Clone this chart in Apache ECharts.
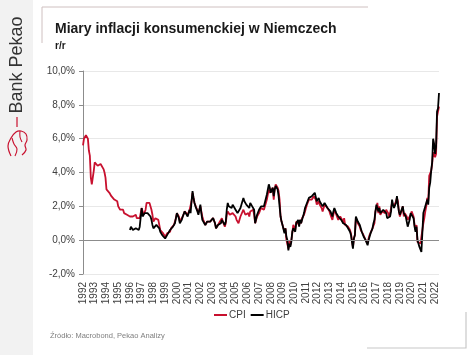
<!DOCTYPE html>
<html>
<head>
<meta charset="utf-8">
<script src="https://cdn.jsdelivr.net/npm/echarts@6/dist/echarts.min.js"></script>
<style>
html,body{margin:0;padding:0;background:#fff;}
#c{width:474px;height:355px;}
</style>
</head>
<body>
<div id="c"></div>
<script>
// ---- data (monthly y/y, %) ----
const startYear = 1992;
const endYear = 2022;
const endMonth = 5;

const cpi = [
  5.6, 6.0, 6.1, 6.2, 6.2, 6.0, 5.3, 5.0, 3.7, 3.3, 3.4, 4.1, // 1992
  4.6, 4.7, 4.5, 4.4, 4.3, 4.4, 4.5, 4.5, 4.4, 4.2, 4.0, 3.7, // 1993
  3.0, 2.9, 2.9, 2.8, 2.7, 2.6, 2.5, 2.5, 2.4, 2.4, 2.3, 2.3, // 1994
  2.0, 1.9, 1.8, 1.8, 1.7, 1.8, 1.6, 1.7, 1.5, 1.5, 1.6, 1.5, // 1995
  1.4, 1.5, 1.4, 1.4, 1.3, 1.4, 1.5, 1.3, 1.3, 1.4, 1.3, 1.4, // 1996
  1.9, 1.7, 1.5, 1.6, 1.8, 2.2, 2.3, 2.3, 2.2, 2.2, 1.8, 1.5, // 1997
  1.1, 1.2, 1.3, 1.4, 1.3, 1.2, 0.9, 0.6, 0.6, 0.5, 0.4, 0.3, // 1998
  0.2, 0.2, 0.4, 0.5, 0.5, 0.5, 0.7, 0.8, 0.8, 0.9, 1.1, 1.3, // 1999
  1.6, 1.5, 1.4, 1.1, 1.0, 1.2, 1.4, 1.3, 1.7, 1.6, 1.6, 1.5, // 2000
  1.5, 1.8, 1.7, 2.3, 2.8, 2.5, 2.2, 2.1, 1.9, 1.8, 1.6, 1.7, // 2001
  2.0, 1.7, 1.4, 1.2, 1.1, 0.9, 1.0, 1.1, 1.1, 1.2, 1.1, 1.1, // 2002
  1.1, 1.3, 1.2, 1.0, 0.7, 0.8, 0.9, 1.0, 1.1, 1.1, 1.3, 1.1, // 2003
  1.1, 0.8, 1.0, 1.5, 1.7, 1.6, 1.5, 1.6, 1.4, 1.6, 1.5, 1.7, // 2004
  1.4, 1.2, 1.1, 1.0, 1.2, 1.4, 1.5, 1.4, 1.8, 1.7, 1.5, 1.5, // 2005
  1.4, 1.6, 1.4, 1.7, 1.8, 1.7, 1.8, 1.5, 1.0, 1.1, 1.4, 1.3, // 2006
  1.6, 1.6, 1.9, 1.9, 1.9, 1.8, 1.9, 1.9, 2.4, 2.4, 3.0, 2.8, // 2007
  2.8, 2.8, 3.1, 2.4, 3.0, 3.3, 3.3, 3.1, 2.9, 2.4, 1.4, 1.1, // 2008
  0.9, 1.0, 0.5, 0.7, 0.0, 0.1, -0.5, 0.0, -0.3, 0.0, 0.4, 0.9, // 2009
  0.8, 0.6, 1.1, 1.0, 1.2, 0.9, 1.2, 1.0, 1.3, 1.3, 1.5, 1.7, // 2010
  1.9, 2.1, 2.1, 2.4, 2.3, 2.3, 2.4, 2.4, 2.6, 2.5, 2.4, 2.1, // 2011
  2.1, 2.3, 2.1, 2.0, 1.9, 1.7, 1.7, 2.1, 2.0, 2.0, 1.9, 2.0, // 2012
  1.7, 1.5, 1.4, 1.2, 1.5, 1.8, 1.9, 1.5, 1.4, 1.2, 1.3, 1.4, // 2013
  1.3, 1.2, 1.0, 1.3, 0.9, 1.0, 0.8, 0.8, 0.8, 0.6, 0.4, 0.0, // 2014
  -0.4, 0.1, 0.3, 1.3, 1.2, 1.0, 0.9, 0.8, 0.6, 0.5, 0.4, 0.3, // 2015
  0.3, 0.0, 0.0, -0.2, 0.1, 0.3, 0.4, 0.4, 0.7, 0.8, 1.0, 1.7, // 2016
  1.9, 2.2, 1.6, 2.0, 1.5, 1.6, 1.7, 1.8, 1.8, 1.6, 1.8, 1.7, // 2017
  1.6, 1.4, 1.6, 1.6, 2.2, 2.1, 2.0, 2.0, 2.3, 2.5, 2.3, 1.7, // 2018
  1.4, 1.5, 1.3, 2.0, 1.4, 1.6, 1.7, 1.4, 1.2, 1.1, 1.1, 1.5, // 2019
  1.7, 1.7, 1.4, 0.9, 0.6, 0.9, -0.1, 0.0, -0.2, -0.2, -0.3, -0.3, // 2020
  1.0, 1.3, 1.7, 2.0, 2.5, 2.3, 3.8, 3.9, 4.1, 4.5, 5.2, 5.3, // 2021
  4.9, 5.1, 7.3, 7.4, 7.9 // 2022
];

const hicpStartYear = 1996;
const hicp = [
  0.6, 0.8, 0.7, 0.6, 0.6, 0.7, 0.7, 0.6, 0.6, 0.6, 0.8, 0.9, // 1996
  1.9, 1.4, 1.5, 1.6, 1.7, 1.5, 1.6, 1.7, 1.6, 1.4, 1.2, 0.9, // 1997
  0.7, 0.6, 0.7, 0.9, 0.8, 0.8, 0.7, 0.5, 0.4, 0.3, 0.2, 0.2, // 1998
  0.1, 0.1, 0.2, 0.4, 0.4, 0.6, 0.7, 0.7, 0.8, 0.9, 1.0, 1.3, // 1999
  1.6, 1.5, 1.3, 1.0, 0.9, 1.2, 1.4, 1.3, 1.7, 1.6, 1.6, 1.4, // 2000
  1.5, 1.8, 1.6, 2.3, 2.9, 2.5, 2.2, 2.0, 1.9, 1.7, 1.5, 1.6, // 2001
  2.1, 1.6, 1.2, 1.2, 1.1, 0.9, 1.0, 1.1, 1.1, 1.2, 1.1, 1.2, // 2002
  1.1, 1.3, 1.2, 1.0, 0.7, 0.8, 0.9, 1.0, 1.0, 1.0, 1.2, 1.1, // 2003
  1.2, 0.9, 1.1, 1.8, 2.2, 2.0, 2.0, 2.1, 1.9, 2.1, 2.0, 2.2, // 2004
  1.8, 1.9, 1.6, 1.5, 1.7, 1.9, 1.9, 1.9, 2.5, 2.3, 2.2, 2.1, // 2005
  2.1, 2.1, 1.9, 2.2, 2.1, 2.0, 2.1, 1.8, 1.0, 1.1, 1.5, 1.4, // 2006
  1.8, 1.9, 2.0, 2.0, 2.0, 2.0, 2.0, 2.0, 2.7, 2.7, 3.3, 3.1, // 2007
  2.8, 2.9, 3.1, 2.6, 3.0, 3.2, 3.1, 3.0, 2.6, 2.0, 1.4, 1.1, // 2008
  0.9, 1.0, 0.4, 0.7, 0.2, 0.0, -0.6, -0.2, -0.4, -0.1, 0.5, 0.7, // 2009
  0.7, 0.5, 1.0, 1.0, 1.2, 0.8, 1.2, 1.0, 1.2, 1.3, 1.6, 1.9, // 2010
  2.0, 2.2, 2.3, 2.5, 2.4, 2.4, 2.6, 2.5, 2.7, 2.8, 2.7, 2.3, // 2011
  2.3, 2.5, 2.3, 2.2, 2.2, 2.0, 2.1, 2.2, 2.1, 2.1, 1.9, 2.0, // 2012
  1.9, 1.7, 1.8, 1.4, 1.7, 1.9, 1.8, 1.6, 1.5, 1.4, 1.4, 1.3, // 2013
  1.2, 1.1, 1.0, 1.0, 0.9, 0.9, 0.8, 0.7, 0.7, 0.5, 0.3, -0.1, // 2014
  -0.5, 0.1, 0.3, 1.4, 1.3, 1.1, 1.0, 0.9, 0.7, 0.5, 0.4, 0.2, // 2015
  0.2, 0.0, -0.1, -0.3, 0.0, 0.2, 0.4, 0.5, 0.7, 1.0, 1.2, 1.7, // 2016
  2.1, 2.0, 1.7, 1.9, 1.6, 1.5, 1.5, 1.8, 1.8, 1.7, 1.6, 1.3, // 2017
  1.3, 1.4, 1.4, 1.7, 2.4, 2.1, 1.9, 2.0, 2.2, 2.6, 2.1, 1.7, // 2018
  1.5, 1.6, 1.4, 2.0, 1.6, 1.5, 1.4, 1.4, 0.8, 0.9, 1.2, 1.6, // 2019
  1.6, 1.7, 1.3, 0.8, 0.5, 0.8, 0.0, -0.1, -0.4, -0.5, -0.7, -0.7, // 2020
  1.6, 1.6, 2.0, 2.1, 2.4, 2.1, 3.1, 3.4, 4.1, 4.6, 6.0, 5.7, // 2021
  5.1, 5.5, 7.6, 7.8, 8.7 // 2022
];

const yTicks = { min: -2, max: 10, interval: 2 };
const seriesNames = ['CPI', 'HICP'];

// ---- build categories ----
const months = [];
for (let y = startYear; y <= endYear; y++) {
  for (let m = 1; m <= 12; m++) {
    if (y === endYear && m > endMonth) break;
    months.push(y + '-' + (m < 10 ? '0' + m : m));
  }
}
const hicpOffset = (hicpStartYear - startYear) * 12;
const hicpFull = months.map((_, i) => i < hicpOffset ? null : hicp[i - hicpOffset]);

const FONT = "'Liberation Sans', sans-serif";

const chart = echarts.init(document.getElementById('c'), null, { renderer: 'canvas' });
chart.setOption({
  animation: false,
  backgroundColor: '#ffffff',
  grid: { left: 83, right: 35, top: 71, bottom: 81 },
  legend: {
    data: seriesNames,
    left: 209, top: 305,
    itemWidth: 13, itemHeight: 2, itemGap: 5,
    icon: 'rect',
    textStyle: { fontFamily: FONT, fontSize: 10, color: '#404040', padding: [0, 0, 0, -3] }
  },
  xAxis: {
    type: 'category',
    data: months,
    boundaryGap: false,
    axisLine: { show: false },
    axisTick: { show: false },
    splitLine: { show: false },
    axisLabel: {
      interval: (i) => i % 12 === 0,
      formatter: (v) => v.slice(0, 4),
      rotate: 90,
      margin: 8,
      fontFamily: FONT, fontSize: 10, color: '#404040'
    }
  },
  yAxis: {
    type: 'value',
    min: yTicks.min, max: yTicks.max, interval: yTicks.interval,
    axisLine: { show: true, lineStyle: { color: '#8c8c8c', width: 1 } },
    axisTick: { show: true, length: 4, lineStyle: { color: '#8c8c8c' } },
    splitLine: { show: true, lineStyle: { color: '#e8e8e8', width: 1 } },
    axisLabel: {
      formatter: (v) => v.toFixed(1).replace('.', ',') + '%',
      margin: 8,
      fontFamily: FONT, fontSize: 10, color: '#404040'
    }
  },
  series: [
    {
      name: 'CPI', type: 'line', data: cpi, showSymbol: false, symbol: 'none',
      lineStyle: { color: '#c8102e', width: 1.8 }, itemStyle: { color: '#c8102e' },
      markLine: {
        silent: true, symbol: 'none', label: { show: false },
        lineStyle: { color: '#8c8c8c', type: 'solid', width: 1 },
        data: [{ yAxis: 0 }]
      },
      z: 2
    },
    {
      name: 'HICP', type: 'line', data: hicpFull, showSymbol: false, symbol: 'none',
      lineStyle: { color: '#000000', width: 1.8 }, itemStyle: { color: '#000000' },
      z: 3
    }
  ],
  graphic: [
    { type: 'rect', shape: { x: 0, y: 0, width: 33, height: 355 }, style: { fill: '#f2f2f2' }, z: -1 },
    { type: 'text', x: 17, y: 65, rotation: Math.PI / 2,
      style: { text: 'Bank Pekao', fontFamily: FONT, fontSize: 18,
               fill: '#333333', textAlign: 'center', textVerticalAlign: 'middle' } },
    { type: 'polyline', shape: { points: [[17, 117], [17, 127]] }, style: { stroke: '#c8102e', lineWidth: 1.2, fill: null } },
    { type: 'polyline', shape: { smooth: 0.4, points: [[11, 156], [8, 146], [11, 138], [16, 132], [21, 131], [26, 134], [27, 140], [25, 145], [26, 150], [22, 155]] },
      style: { stroke: '#c8102e', fill: null, lineWidth: 1.2 } },
    { type: 'polyline', shape: { smooth: 0.4, points: [[12, 138], [14, 144], [17, 149], [15, 156]] },
      style: { stroke: '#c8102e', fill: null, lineWidth: 1.1 } },
    { type: 'polyline', shape: { smooth: 0.4, points: [[20, 131], [20, 137], [22, 142]] },
      style: { stroke: '#c8102e', fill: null, lineWidth: 1.1 } },
    { type: 'polyline', shape: { points: [[42, 43], [42, 7], [368, 7]] }, style: { stroke: '#cfc0c0', lineWidth: 1, fill: null } },
    { type: 'polyline', shape: { points: [[466, 312], [466, 348], [367, 348]] }, style: { stroke: '#c8c8c8', lineWidth: 1.2, fill: null } },
    { type: 'text', x: 55, y: 22,
      style: { text: 'Miary inflacji konsumenckiej w Niemczech', fontFamily: FONT, fontSize: 14, fontWeight: 'bold', fill: '#1a1a1a' } },
    { type: 'text', x: 55, y: 41,
      style: { text: 'r/r', fontFamily: FONT, fontSize: 10, fontWeight: 'bold', fill: '#1a1a1a' } },
    { type: 'text', x: 50, y: 332,
      style: { text: 'Źródło: Macrobond, Pekao Analizy', fontFamily: FONT, fontSize: 7.5, fill: '#7f7f7f' } }
  ]
});
</script>
</body>
</html>
